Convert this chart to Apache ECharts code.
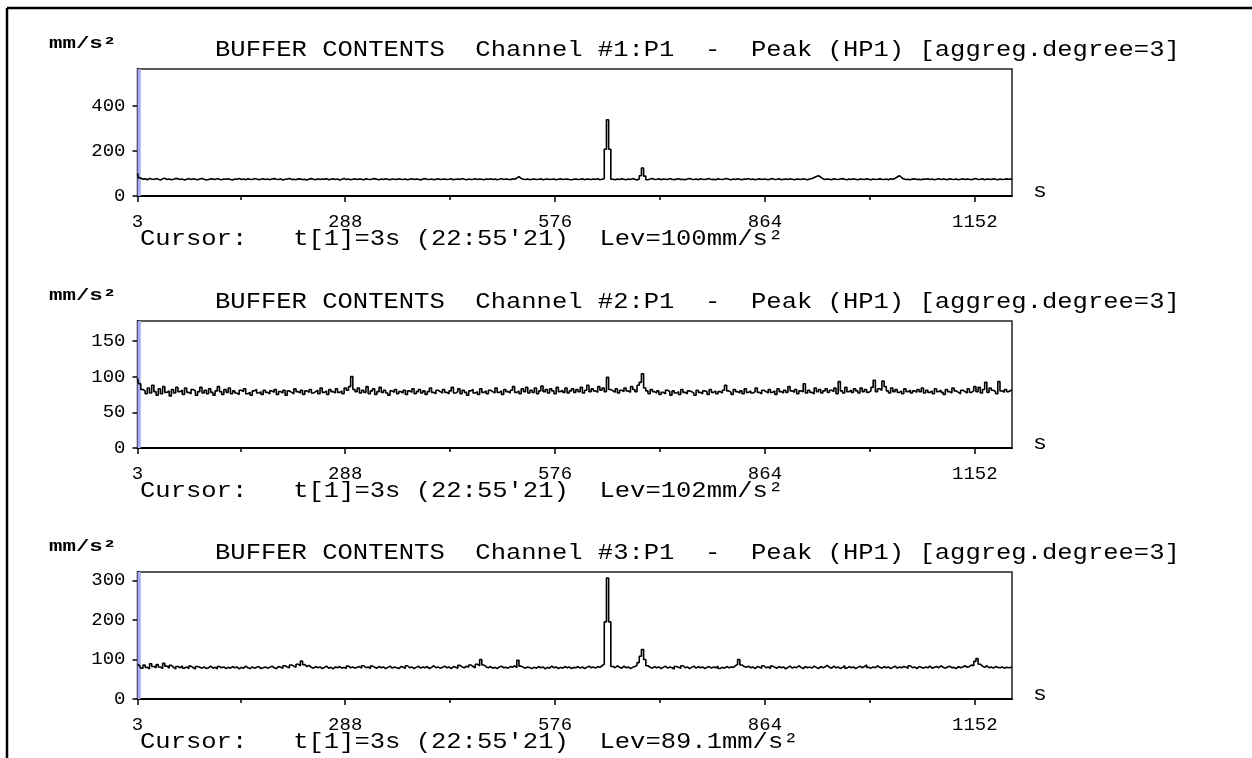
<!DOCTYPE html>
<html>
<head>
<meta charset="utf-8">
<script src="https://cdn.jsdelivr.net/npm/echarts@6/dist/echarts.min.js"></script>
<style>
  html, body { margin: 0; padding: 0; background: #fff; }
  #buffer { width: 1252px; height: 758px; }
</style>
</head>
<body>
<div id="buffer"></div>
<script>
// buffer contents, one value every 3 s (aggreg.degree=3), t = 3 .. 1203 s
const tStart = 3
const tStep = 3

const ch1 = [
  100,80,74,76,72,78,75,73,77,74,71,76,79,73,75,72,74,78,76,73,
  75,71,74,77,73,76,74,72,75,78,74,71,73,76,75,73,77,74,72,75,
  74,76,73,71,75,74,78,73,75,72,76,74,73,77,75,72,74,76,73,75,
  72,75,77,74,73,76,71,74,75,78,73,74,72,76,75,73,74,71,75,77,
  74,72,76,73,75,74,77,72,74,76,73,75,71,74,78,73,75,72,74,76,
  73,75,74,72,76,74,73,75,77,74,72,75,73,76,74,72,75,74,73,76,
  74,73,75,72,74,76,73,75,74,71,75,77,74,73,75,72,74,76,73,74,
  75,73,74,76,72,74,75,73,77,74,72,75,73,74,76,73,75,74,72,75,
  74,76,73,75,72,74,77,73,75,74,72,76,74,80,86,78,74,73,75,72,
  74,75,73,74,76,72,74,75,73,74,75,72,74,76,73,74,75,73,72,74,
  75,73,74,76,72,75,74,73,75,74,76,72,74,78,207,338,207,74,72,75,
  73,76,74,72,75,73,77,74,71,75,90,124,88,72,75,78,73,74,76,72,
  75,74,73,77,74,72,75,76,73,74,72,75,78,74,73,75,72,76,74,73,
  75,77,73,74,72,76,74,73,75,78,74,72,75,73,76,74,72,75,74,77,
  73,75,72,74,76,73,75,74,72,75,77,73,74,76,72,74,75,73,76,74,
  72,75,74,73,76,74,72,75,78,82,86,90,84,76,73,75,74,72,76,74,
  73,75,77,74,72,75,73,76,74,72,75,74,73,76,74,72,75,73,74,76,
  74,73,75,72,76,74,78,84,90,82,75,73,74,72,75,76,73,74,72,75,
  74,76,73,75,72,74,77,73,75,74,72,76,74,73,75,72,74,76,73,75,
  74,72,75,77,73,74,76,72,75,74,73,76,74,72,75,73,74,76,74,75,74
]

const ch2 = [
  98,90,82,80,76,84,77,88,79,74,83,76,86,78,80,73,82,77,85,79,
  81,75,84,78,76,82,80,74,79,85,77,81,76,83,78,74,80,86,79,75,
  82,78,84,76,80,77,75,81,79,83,76,78,74,80,82,77,79,75,81,78,
  76,80,78,82,75,79,77,81,74,80,78,76,83,79,77,81,75,80,78,82,
  77,79,81,76,84,78,80,75,82,79,77,83,78,80,76,84,81,86,100,82,
  79,84,77,81,78,86,76,80,83,75,79,85,78,81,77,74,80,78,82,76,
  79,77,81,75,80,78,83,76,79,82,77,80,75,79,84,78,76,81,79,77,
  82,78,76,80,85,77,79,83,76,81,78,74,80,82,77,79,75,83,78,80,
  76,81,79,77,84,78,80,75,82,79,77,81,86,78,80,76,83,79,85,77,
  81,78,84,76,80,87,79,82,77,83,80,76,85,79,81,78,84,77,80,83,
  78,82,79,85,77,81,88,79,83,80,78,86,81,84,79,99,82,80,78,83,
  77,81,79,84,80,78,86,82,79,88,92,104,84,80,76,82,79,77,80,75,
  78,76,81,79,74,80,77,79,75,82,78,76,80,79,77,74,81,78,76,80,
  79,75,82,78,80,76,79,77,81,88,80,78,75,82,79,77,80,76,83,78,
  80,77,79,84,78,76,81,79,77,82,78,80,75,83,79,77,81,78,86,80,
  78,82,76,80,79,90,77,81,78,76,84,79,82,77,80,83,78,81,79,84,
  76,93,80,77,85,79,81,78,83,80,77,84,79,82,78,80,85,95,79,83,
  81,94,86,80,77,84,79,82,78,80,76,83,79,81,77,80,78,82,79,84,
  77,81,78,80,76,83,79,81,78,75,82,79,77,84,80,78,76,81,79,77,
  83,78,80,86,79,85,77,82,92,78,84,81,79,76,93,80,78,82,79,81,80
]

const ch3 = [
  88,84,78,86,80,76,89,82,79,87,81,77,90,83,78,85,80,76,82,79,
  84,78,81,77,83,79,76,82,80,78,81,77,79,83,78,80,76,82,79,81,
  77,80,78,82,79,81,76,80,78,83,79,77,81,78,80,82,77,79,81,78,
  80,83,79,77,82,80,78,84,81,79,86,83,80,88,84,96,87,82,85,80,
  78,82,79,81,77,80,83,78,80,76,81,79,82,78,80,77,83,79,81,78,
  80,82,78,84,79,81,77,83,80,78,82,79,81,77,80,83,78,81,79,77,
  82,80,78,84,79,81,77,80,83,78,81,79,82,77,80,84,79,81,78,80,
  83,79,81,77,82,80,78,85,81,79,83,80,86,82,79,88,84,100,86,81,
  79,82,78,80,77,81,83,79,80,78,82,80,84,79,98,83,80,78,81,79,
  77,80,78,82,79,81,76,80,78,83,79,81,77,80,78,82,79,81,77,80,
  79,82,78,81,77,80,83,79,81,78,82,80,84,88,195,306,195,82,79,84,
  80,78,83,79,81,77,80,82,85,92,108,125,100,84,80,78,82,79,81,77,
  80,83,78,81,79,76,82,80,78,84,79,81,77,80,83,78,82,79,81,77,
  80,82,78,81,79,83,77,80,78,82,79,81,80,84,88,100,86,82,80,83,
  79,81,77,82,80,78,84,79,81,77,83,80,78,82,79,81,76,80,83,78,
  81,79,84,80,77,82,79,81,78,83,80,77,82,79,81,85,80,78,83,79,
  81,77,80,84,78,82,79,81,77,80,83,79,82,86,80,78,81,79,84,80,
  78,82,79,81,77,80,83,78,81,79,82,80,78,84,79,81,77,82,80,78,
  81,79,83,78,80,82,79,84,80,78,81,83,79,80,77,82,79,81,84,80,
  82,86,84,95,102,88,83,80,84,79,81,78,82,80,79,81,78,80,79,80,79
]

const channels = [ch1, ch2, ch3]
const xMajor = [3, 288, 576, 864, 1152]
const xMinor = [144, 432, 720, 1008]
const yMax = [563, 178, 321]
const yStep = [200, 50, 100]
const cursorLev = ['100mm/s²', '102mm/s²', '89.1mm/s²']

const FONT = '"Liberation Mono", "DejaVu Sans Mono", monospace'
const gridTop = [69, 321, 572]
const gridH = 127
const gridLeft = 137.5
const gridW = 874.5

var chart = echarts.init(document.getElementById('buffer'))

const grids = [], xAxes = [], yAxes = [], series = [], texts = []

channels.forEach((vals, k) => {
    grids.push({
        left: gridLeft, top: gridTop[k], width: gridW, height: gridH,
        show: true, borderColor: '#222', borderWidth: 1.5
    })
    // main x axis with labelled ticks
    xAxes.push({
        type: 'value', gridIndex: k, min: 3, max: 1203, position: 'bottom',
        axisLine: { lineStyle: { color: '#000', width: 2 } },
        axisTick: { show: true, length: 6, customValues: xMajor, lineStyle: { color: '#000', width: 1.5 } },
        axisLabel: {
            customValues: xMajor, margin: 16, color: '#000', fontFamily: FONT, fontSize: 19,
            formatter: (v) => String(v)
        },
        splitLine: { show: false }
    })
    // short unlabelled ticks in between
    xAxes.push({
        type: 'value', gridIndex: k, min: 3, max: 1203, position: 'bottom',
        axisLine: { show: false },
        axisTick: { show: true, length: 4, customValues: xMinor, lineStyle: { color: '#000', width: 1.5 } },
        axisLabel: { show: false },
        splitLine: { show: false }
    })
    yAxes.push({
        type: 'value', gridIndex: k, min: 0, max: yMax[k], interval: yStep[k],
        axisLine: { show: true, lineStyle: { color: '#000', width: 2 } },
        axisTick: { show: true, length: 5, lineStyle: { color: '#000', width: 1.5 } },
        axisLabel: { margin: 12, color: '#000', fontFamily: FONT, fontSize: 19, showMaxLabel: false },
        splitLine: { show: false }
    })
    series.push({
        type: 'line', xAxisIndex: k * 2, yAxisIndex: k,
        data: vals.map((v, i) => [tStart + i * tStep, v]),
        step: 'middle',
        showSymbol: false, animation: false,
        lineStyle: { color: '#000', width: 1.6 },
        // cursor at t=3
        markArea: {
            silent: true,
            itemStyle: { color: '#a9acf4' },
            data: [[{ xAxis: 3 }, { xAxis: 7.5 }]]
        }
    })

    const top = gridTop[k]
    const bottom = top + gridH
    texts.push(
        { type: 'text', x: 49, y: top - 25, scaleX: 1.4,
          style: { text: 'mm/s²', font: 'bold 16px ' + FONT, fill: '#000', verticalAlign: 'middle' } },
        { type: 'text', x: 215, y: top - 19, scaleX: 1.16,
          style: { text: 'BUFFER CONTENTS  Channel #' + (k + 1) + ':P1  -  Peak (HP1) [aggreg.degree=3]',
                   font: '22px ' + FONT, fill: '#000', verticalAlign: 'middle' } },
        { type: 'text', x: 140, y: bottom + 43, scaleX: 1.16,
          style: { text: "Cursor:   t[1]=3s (22:55'21)  Lev=" + cursorLev[k],
                   font: '22px ' + FONT, fill: '#000', verticalAlign: 'middle' } },
        { type: 'text', x: 1033, y: bottom - 4, scaleX: 1.16,
          style: { text: 's', font: '20px ' + FONT, fill: '#000', verticalAlign: 'middle' } }
    )
})

chart.setOption({
    animation: false,
    grid: grids,
    xAxis: xAxes,
    yAxis: yAxes,
    series: series,
    graphic: [
        // outer frame
        { type: 'line', shape: { x1: 7, y1: 8, x2: 1252, y2: 8 }, style: { stroke: '#000', lineWidth: 2.5 } },
        { type: 'line', shape: { x1: 7, y1: 8, x2: 7, y2: 758 }, style: { stroke: '#000', lineWidth: 2.5 } }
    ].concat(texts)
})

window.addEventListener('resize', () => {
    chart.resize()
})
</script>
</body>
</html>
